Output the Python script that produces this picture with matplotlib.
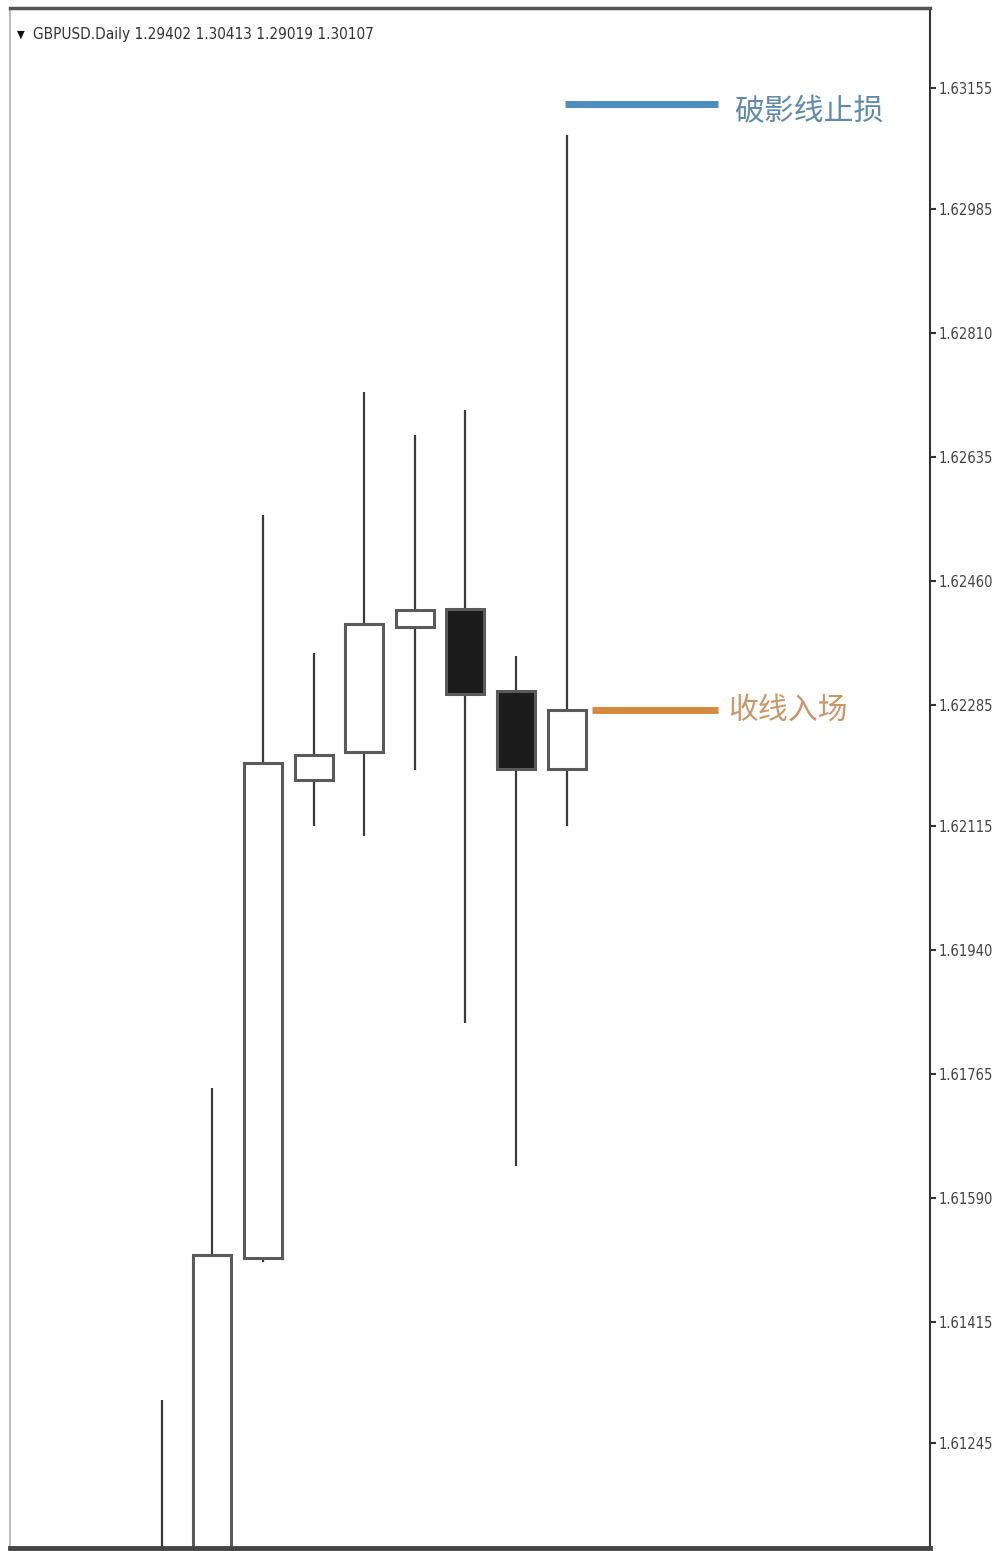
import numpy as np
import matplotlib.pyplot as plt

plt.rcParams['font.family'] = ['DejaVu Sans']
plt.rcParams['font.stretch'] = 'condensed'

# daily OHLC, oldest first (first two bars open below the visible range)
opens = [1.6085, 1.6095, 1.61506, 1.62180, 1.62219, 1.62395, 1.62421, 1.62305, 1.62195]
highs = [1.61306, 1.61745, 1.62553, 1.62358, 1.62726, 1.62666, 1.62701, 1.62354, 1.63089]
lows = [1.6080, 1.6090, 1.61500, 1.62115, 1.62101, 1.62194, 1.61837, 1.61636, 1.62115]
closes = [1.6090, 1.61510, 1.62204, 1.62215, 1.62399, 1.62419, 1.62301, 1.62195, 1.62278]

price_ticks = [1.63155, 1.62985, 1.62810, 1.62635, 1.62460, 1.62285,
               1.62115, 1.61940, 1.61765, 1.61590, 1.61415, 1.61245]
stop_level = 1.63132

header = 'GBPUSD.Daily 1.29402 1.30413 1.29019 1.30107'
stop_label = '破影线止损'
entry_label = '收线入场'

fig = plt.figure(figsize=(9.97, 15.51), dpi=100)
ax = fig.add_axes([10 / 997, 3 / 1551, 920 / 997, 1540 / 1551])

x = np.arange(len(opens))
o = np.array(opens)
c = np.array(closes)
bull = c >= o

ax.vlines(x, lows, highs, color='#3a3a3a', lw=1.6, zorder=1)
ax.bar(x, np.abs(c - o), bottom=np.minimum(o, c), width=0.75,
       color=np.where(bull, 'white', '#1c1c1c'),
       edgecolor='#5a5a5a', linewidth=2.2, zorder=2)

# stop-loss above the long upper shadow, entry at the close of the last bar
ax.hlines(stop_level, 7.96, 10.99, color='#4f8dbf', lw=5, zorder=3)
ax.text(11.3, stop_level - 0.0001, stop_label, family='Noto Sans CJK SC', fontsize=21.5,
        color='#5f8aac', va='center', ha='left')
ax.hlines(closes[-1], 8.5, 10.99, color='#d68b3c', lw=5, zorder=3)
ax.text(11.2, closes[-1], entry_label, family='Noto Sans CJK SC', fontsize=21.5,
        color='#c8976a', va='center', ha='left')

ax.set_xlim(-3.0, 15.18)
ax.set_ylim(1.61097, 1.632678)
ax.set_xticks([])
ax.yaxis.tick_right()
ax.set_yticks(price_ticks)
ax.set_yticklabels(['%.5f' % v for v in price_ticks], fontsize=10.5, color='#444444')
ax.tick_params(axis='y', length=4, width=1.5, color='#333333', pad=2)

for side, col, lw in [('left', '#b0b0b0', 1.2), ('top', '#555555', 2.5),
                      ('right', '#333333', 1.5), ('bottom', '#444444', 3.5)]:
    ax.spines[side].set_color(col)
    ax.spines[side].set_linewidth(lw)

ax.text(0.008, 0.983, '▼', transform=ax.transAxes, fontsize=8,
        color='#111111', va='center')
ax.text(0.025, 0.983, header, transform=ax.transAxes, fontsize=11,
        color='#333333', va='center')

fig.savefig('out.png', dpi=100, facecolor='white')
